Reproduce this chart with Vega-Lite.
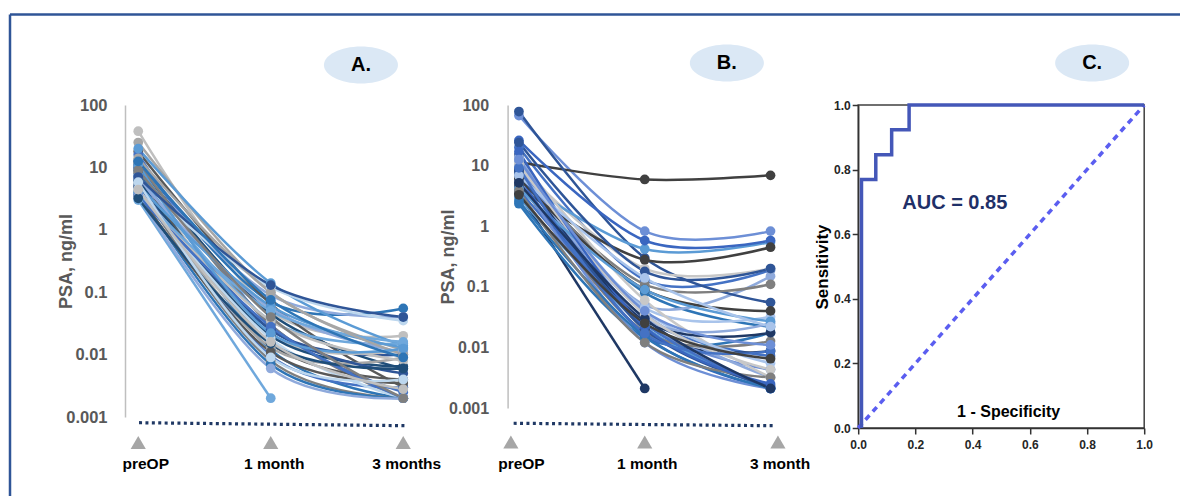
{
  "$schema": "https://vega.github.io/schema/vega-lite/v6.json",
  "background": "white",
  "padding": {"left": 8, "top": 13, "right": 0, "bottom": 0},
  "autosize": {"type": "pad"},
  "bounds": "flush",
  "spacing": 83.6,
  "config": {"view": {"stroke": null}, "font": "Liberation Sans"},
  "resolve": {"scale": {"color": "independent"}},
  "datasets": {
    "a": [
      {"p":"a00","t":0,"v":38},{"p":"a00","t":1,"v":0.05},{"p":"a00","t":2,"v":0.02},
      {"p":"a01","t":0,"v":13},{"p":"a01","t":1,"v":0.07},{"p":"a01","t":2,"v":0.055},
      {"p":"a02","t":0,"v":18},{"p":"a02","t":1,"v":0.065},{"p":"a02","t":2,"v":0.003},
      {"p":"a03","t":0,"v":3.0},{"p":"a03","t":1,"v":0.002},
      {"p":"a04","t":0,"v":16},{"p":"a04","t":1,"v":0.03},{"p":"a04","t":2,"v":0.0025},
      {"p":"a05","t":0,"v":9.5},{"p":"a05","t":1,"v":0.09},{"p":"a05","t":2,"v":0.04},
      {"p":"a06","t":0,"v":11},{"p":"a06","t":1,"v":0.045},{"p":"a06","t":2,"v":0.006},
      {"p":"a07","t":0,"v":25},{"p":"a07","t":1,"v":0.1},{"p":"a07","t":2,"v":0.012},
      {"p":"a08","t":0,"v":20},{"p":"a08","t":1,"v":0.14},{"p":"a08","t":2,"v":0.014},
      {"p":"a09","t":0,"v":12},{"p":"a09","t":1,"v":0.03},{"p":"a09","t":2,"v":0.002},
      {"p":"a10","t":0,"v":10},{"p":"a10","t":1,"v":0.025},{"p":"a10","t":2,"v":0.01},
      {"p":"a11","t":0,"v":6},{"p":"a11","t":1,"v":0.12},{"p":"a11","t":2,"v":0.035},
      {"p":"a12","t":0,"v":8.5},{"p":"a12","t":1,"v":0.02},{"p":"a12","t":2,"v":0.012},
      {"p":"a13","t":0,"v":9},{"p":"a13","t":1,"v":0.012},{"p":"a13","t":2,"v":0.002},
      {"p":"a14","t":0,"v":8},{"p":"a14","t":1,"v":0.015},{"p":"a14","t":2,"v":0.004},
      {"p":"a15","t":0,"v":7.5},{"p":"a15","t":1,"v":0.035},{"p":"a15","t":2,"v":0.015},
      {"p":"a16","t":0,"v":7},{"p":"a16","t":1,"v":0.0095},{"p":"a16","t":2,"v":0.003},
      {"p":"a17","t":0,"v":6.5},{"p":"a17","t":1,"v":0.055},{"p":"a17","t":2,"v":0.011},
      {"p":"a18","t":0,"v":6.2},{"p":"a18","t":1,"v":0.02},{"p":"a18","t":2,"v":0.0065},
      {"p":"a19","t":0,"v":5.5},{"p":"a19","t":1,"v":0.013},{"p":"a19","t":2,"v":0.009},
      {"p":"a20","t":0,"v":5.2},{"p":"a20","t":1,"v":0.06},{"p":"a20","t":2,"v":0.013},
      {"p":"a21","t":0,"v":5},{"p":"a21","t":1,"v":0.008},{"p":"a21","t":2,"v":0.002},
      {"p":"a22","t":0,"v":4.8},{"p":"a22","t":1,"v":0.025},{"p":"a22","t":2,"v":0.005},
      {"p":"a23","t":0,"v":4.5},{"p":"a23","t":1,"v":0.018},{"p":"a23","t":2,"v":0.002},
      {"p":"a24","t":0,"v":4.2},{"p":"a24","t":1,"v":0.035},{"p":"a24","t":2,"v":0.008},
      {"p":"a25","t":0,"v":4},{"p":"a25","t":1,"v":0.007},{"p":"a25","t":2,"v":0.002},
      {"p":"a26","t":0,"v":3.6},{"p":"a26","t":1,"v":0.011},{"p":"a26","t":2,"v":0.0035},
      {"p":"a27","t":0,"v":3.8},{"p":"a27","t":1,"v":0.05},{"p":"a27","t":2,"v":0.016},
      {"p":"a28","t":0,"v":3.5},{"p":"a28","t":1,"v":0.028},{"p":"a28","t":2,"v":0.002},
      {"p":"a29","t":0,"v":3.4},{"p":"a29","t":1,"v":0.006},{"p":"a29","t":2,"v":0.002},
      {"p":"a30","t":0,"v":3.2},{"p":"a30","t":1,"v":0.015},{"p":"a30","t":2,"v":0.006},
      {"p":"a31","t":0,"v":14},{"p":"a31","t":1,"v":0.1},{"p":"a31","t":2,"v":0.01},
      {"p":"a32","t":0,"v":11},{"p":"a32","t":1,"v":0.022},{"p":"a32","t":2,"v":0.0125},
      {"p":"a33","t":0,"v":9},{"p":"a33","t":1,"v":0.04},{"p":"a33","t":2,"v":0.002},
      {"p":"a34","t":0,"v":7},{"p":"a34","t":1,"v":0.13},{"p":"a34","t":2,"v":0.04},
      {"p":"a35","t":0,"v":5.8},{"p":"a35","t":1,"v":0.009},{"p":"a35","t":2,"v":0.004},
      {"p":"a36","t":0,"v":4.4},{"p":"a36","t":1,"v":0.016},{"p":"a36","t":2,"v":0.0028},
      {"p":"a37","t":0,"v":12.5},{"p":"a37","t":1,"v":0.075},{"p":"a37","t":2,"v":0.009}
    ],
    "b": [
      {"p":"b00","t":0,"v":20},{"p":"b00","t":1,"v":0.13},{"p":"b00","t":2,"v":0.19},
      {"p":"b01","t":0,"v":3.5},{"p":"b01","t":1,"v":0.0021},
      {"p":"b02","t":0,"v":67},{"p":"b02","t":1,"v":0.83},{"p":"b02","t":2,"v":0.83},
      {"p":"b03","t":0,"v":11.5},{"p":"b03","t":1,"v":5.9},{"p":"b03","t":2,"v":6.9},
      {"p":"b04","t":0,"v":8},{"p":"b04","t":1,"v":0.08},{"p":"b04","t":2,"v":0.022},
      {"p":"b05","t":0,"v":12},{"p":"b05","t":1,"v":0.05},{"p":"b05","t":2,"v":0.15},
      {"p":"b06","t":0,"v":78},{"p":"b06","t":1,"v":0.3},{"p":"b06","t":2,"v":0.055},
      {"p":"b07","t":0,"v":10},{"p":"b07","t":1,"v":0.2},{"p":"b07","t":2,"v":0.2},
      {"p":"b08","t":0,"v":6},{"p":"b08","t":1,"v":0.42},{"p":"b08","t":2,"v":0.55},
      {"p":"b09","t":0,"v":7},{"p":"b09","t":1,"v":0.11},{"p":"b09","t":2,"v":0.11},
      {"p":"b10","t":0,"v":26},{"p":"b10","t":1,"v":0.58},{"p":"b10","t":2,"v":0.58},
      {"p":"b11","t":0,"v":9},{"p":"b11","t":1,"v":0.045},{"p":"b11","t":2,"v":0.032},
      {"p":"b12","t":0,"v":5},{"p":"b12","t":1,"v":0.03},{"p":"b12","t":2,"v":0.0072},
      {"p":"b13","t":0,"v":15},{"p":"b13","t":1,"v":0.02},{"p":"b13","t":2,"v":0.0087},
      {"p":"b14","t":0,"v":9.5},{"p":"b14","t":1,"v":0.025},{"p":"b14","t":2,"v":0.0043},
      {"p":"b15","t":0,"v":4.5},{"p":"b15","t":1,"v":0.28},{"p":"b15","t":2,"v":0.45},
      {"p":"b16","t":0,"v":2.35},{"p":"b16","t":1,"v":0.0145},{"p":"b16","t":2,"v":0.0175},
      {"p":"b17","t":0,"v":7.4},{"p":"b17","t":1,"v":0.036},{"p":"b17","t":2,"v":0.0032},
      {"p":"b18","t":0,"v":24},{"p":"b18","t":1,"v":0.18},{"p":"b18","t":2,"v":0.2},
      {"p":"b19","t":0,"v":13},{"p":"b19","t":1,"v":0.06},{"p":"b19","t":2,"v":0.0032},
      {"p":"b20","t":0,"v":3},{"p":"b20","t":1,"v":0.022},{"p":"b20","t":2,"v":0.0021},
      {"p":"b21","t":0,"v":5.5},{"p":"b21","t":1,"v":0.018},{"p":"b21","t":2,"v":0.0127},
      {"p":"b22","t":0,"v":6.5},{"p":"b22","t":1,"v":0.016},{"p":"b22","t":2,"v":0.0021},
      {"p":"b23","t":0,"v":11},{"p":"b23","t":1,"v":0.04},{"p":"b23","t":2,"v":0.0055},
      {"p":"b24","t":0,"v":4},{"p":"b24","t":1,"v":0.025},{"p":"b24","t":2,"v":0.0021},
      {"p":"b25","t":0,"v":8.5},{"p":"b25","t":1,"v":0.028},{"p":"b25","t":2,"v":0.0175},
      {"p":"b26","t":0,"v":5.8},{"p":"b26","t":1,"v":0.012},{"p":"b26","t":2,"v":0.0021},
      {"p":"b27","t":0,"v":6.2},{"p":"b27","t":1,"v":0.09},{"p":"b27","t":2,"v":0.04},
      {"p":"b28","t":0,"v":2.6},{"p":"b28","t":1,"v":0.015},{"p":"b28","t":2,"v":0.0021},
      {"p":"b29","t":0,"v":14},{"p":"b29","t":1,"v":0.03},{"p":"b29","t":2,"v":0.025},
      {"p":"b30","t":0,"v":7.8},{"p":"b30","t":1,"v":0.02},{"p":"b30","t":2,"v":0.0023},
      {"p":"b31","t":0,"v":10.5},{"p":"b31","t":1,"v":0.035},{"p":"b31","t":2,"v":0.0043},
      {"p":"b32","t":0,"v":4.2},{"p":"b32","t":1,"v":0.09},{"p":"b32","t":2,"v":0.027},
      {"p":"b33","t":0,"v":3.8},{"p":"b33","t":1,"v":0.012},{"p":"b33","t":2,"v":0.0032},
      {"p":"b34","t":0,"v":17},{"p":"b34","t":1,"v":0.022},{"p":"b34","t":2,"v":0.0025},
      {"p":"b35","t":0,"v":6.8},{"p":"b35","t":1,"v":0.14},{"p":"b35","t":2,"v":0.022},
      {"p":"b36","t":0,"v":9.2},{"p":"b36","t":1,"v":0.017},{"p":"b36","t":2,"v":0.0087},
      {"p":"b37","t":0,"v":5.2},{"p":"b37","t":1,"v":0.03},{"p":"b37","t":2,"v":0.0021},
      {"p":"b38","t":0,"v":12.5},{"p":"b38","t":1,"v":0.04},{"p":"b38","t":2,"v":0.011},
      {"p":"b39","t":0,"v":3.3},{"p":"b39","t":1,"v":0.025},{"p":"b39","t":2,"v":0.0065}
    ],
    "roc": [
      {"o":0,"x":0.0115,"y":0},{"o":1,"x":0.0115,"y":0.769},{"o":2,"x":0.0615,"y":0.769},
      {"o":3,"x":0.0615,"y":0.846},{"o":4,"x":0.117,"y":0.846},{"o":5,"x":0.117,"y":0.923},
      {"o":6,"x":0.178,"y":0.923},{"o":7,"x":0.178,"y":1},{"o":8,"x":1,"y":1}
    ]
  },
  "hconcat": [
    {
      "width": 298.1,
      "height": 312,
      "encoding": {
        "x": {"field": "t", "type": "quantitative", "scale": {"domain": [-0.1, 2.15]},
          "axis": {"values": [0, 1, 2], "labelExpr": "['preOP','1 month','3 months'][datum.value]",
            "domain": false, "ticks": false, "grid": false, "labelFlush": false, "labelOverlap": false,
            "labelFontSize": 15.5, "labelFontWeight": "bold", "labelColor": "#000000", "labelPadding": 39,
            "labelOffset": {"condition": {"test": "datum.value == 0", "value": 7}, "value": 3}, "title": null}},
        "y": {"field": "v", "type": "quantitative", "scale": {"type": "log", "domain": [0.001, 100]},
          "axis": {"values": [0.001, 0.01, 0.1, 1, 10, 100], "format": "~r", "domain": true, "domainColor": "#bfbfbf",
            "domainWidth": 1.5, "ticks": false, "grid": false, "labelFlush": false, "labelOverlap": false,
            "labelFontSize": 16.5, "labelFontWeight": "bold", "labelColor": "#595959", "labelPadding": 18,
            "title": "PSA, ng/ml", "titleFontSize": 18, "titleFontWeight": "bold", "titleColor": "#595959",
            "titleX": -59, "titleY": 156, "titleAngle": -90, "titleAlign": "center", "titleBaseline": "middle"}}
      },
      "layer": [
        {"data": {"values": [{"t": -0.968, "t2": 7.91, "v": 2820, "v2": 2820}, {"t": -0.968, "t2": -0.968, "v": 2820, "v2": 0.0000324}]},
          "mark": {"type": "rule", "color": "#2f5597", "strokeWidth": 2.5, "clip": false},
          "encoding": {"x2": {"field": "t2"}, "y2": {"field": "v2"}}},
        {"data": {"name": "a"}, "mark": {"type": "line", "interpolate": "cardinal", "strokeWidth": 2.5, "clip": false},
          "encoding": {"color": {"field": "p", "type": "nominal", "legend": null,
            "scale": {"range": ["#bfbfbf","#2e75b6","#595959","#6fa8dc","#4472c4","#8faadc","#1f4e79","#a6a6a6","#5b9bd5","#7f7f7f","#2f5597","#bdd7ee"]}}}},
        {"data": {"name": "a"}, "mark": {"type": "point", "filled": true, "size": 95, "opacity": 1, "clip": false},
          "encoding": {"color": {"field": "p", "type": "nominal", "legend": null,
            "scale": {"range": ["#bfbfbf","#2e75b6","#595959","#6fa8dc","#4472c4","#8faadc","#1f4e79","#a6a6a6","#5b9bd5","#7f7f7f","#2f5597","#bdd7ee"]}}}},
        {"data": {"values": [{"t": 0.006, "v": 0.00081}, {"t": 2.028, "v": 0.000725}]},
          "mark": {"type": "line", "color": "#1f3864", "strokeWidth": 3.2, "strokeDash": [3, 3.4], "clip": false},
          "encoding": {}},
        {"data": {"values": [{"t": 0, "v": 0.00039}, {"t": 1, "v": 0.00039}, {"t": 2, "v": 0.00039}]},
          "mark": {"type": "point", "shape": "triangle-up", "filled": true, "size": 230, "color": "#a6a6a6", "opacity": 1, "clip": false},
          "encoding": {}},
        {"data": {"values": [{"t": 1.681, "v": 437, "lab": "A."}]},
          "mark": {"type": "point", "shape": "M-1,0A1,0.5,0,1,1,1,0A1,0.5,0,1,1,-1,0Z", "filled": true, "size": 5476, "color": "#dbe8f5", "opacity": 1, "clip": false},
          "encoding": {}},
        {"data": {"values": [{"t": 1.681, "v": 437, "lab": "A."}]},
          "mark": {"type": "text", "fontSize": 20, "fontWeight": "bold", "color": "#000000", "baseline": "middle", "align": "center", "clip": false},
          "encoding": {"text": {"field": "lab"}}}
      ]
    },
    {
      "width": 266.7,
      "height": 303,
      "encoding": {
        "x": {"field": "t", "type": "quantitative", "scale": {"domain": [-0.09, 2.03]},
          "axis": {"values": [0, 1, 2], "labelExpr": "['preOP','1 month','3 month'][datum.value]",
            "domain": false, "ticks": false, "grid": false, "labelFlush": false, "labelOverlap": false,
            "labelFontSize": 15.5, "labelFontWeight": "bold", "labelColor": "#000000", "labelPadding": 48,
            "labelOffset": {"condition": {"test": "datum.value == 2", "value": 9}, "value": 2}, "title": null}},
        "y": {"field": "v", "type": "quantitative", "scale": {"type": "log", "domain": [0.001, 100]},
          "axis": {"values": [0.001, 0.01, 0.1, 1, 10, 100], "format": "~r", "domain": true, "domainColor": "#bfbfbf",
            "domainWidth": 1.5, "ticks": false, "grid": false, "labelFlush": false, "labelOverlap": false,
            "labelFontSize": 16, "labelFontWeight": "bold", "labelColor": "#595959", "labelPadding": 19,
            "title": "PSA, ng/ml", "titleFontSize": 18, "titleFontWeight": "bold", "titleColor": "#595959",
            "titleX": -59, "titleY": 151.5, "titleAngle": -90, "titleAlign": "center", "titleBaseline": "middle"}}
      },
      "layer": [
        {"data": {"name": "b"}, "mark": {"type": "line", "interpolate": "cardinal", "strokeWidth": 2.5, "clip": false},
          "encoding": {"color": {"field": "p", "type": "nominal", "legend": null,
            "scale": {"range": ["#4472c4","#1f3864","#6d8fd6","#404040","#2e75b6","#8faadc","#2f5597","#c8c8c8","#5b9bd5","#7f7f7f","#3a66c0","#a9c4eb"]}}}},
        {"data": {"name": "b"}, "mark": {"type": "point", "filled": true, "size": 95, "opacity": 1, "clip": false},
          "encoding": {"color": {"field": "p", "type": "nominal", "legend": null,
            "scale": {"range": ["#4472c4","#1f3864","#6d8fd6","#404040","#2e75b6","#8faadc","#2f5597","#c8c8c8","#5b9bd5","#7f7f7f","#3a66c0","#a9c4eb"]}}}},
        {"data": {"values": [{"t": -0.042, "v": 0.00056}, {"t": 2.017, "v": 0.00051}]},
          "mark": {"type": "line", "color": "#1f3864", "strokeWidth": 3.2, "strokeDash": [3, 3.4], "clip": false},
          "encoding": {}},
        {"data": {"values": [{"t": -0.064, "v": 0.000275}, {"t": 1, "v": 0.000275}, {"t": 2.059, "v": 0.000275}]},
          "mark": {"type": "point", "shape": "triangle-up", "filled": true, "size": 230, "color": "#a6a6a6", "opacity": 1, "clip": false},
          "encoding": {}},
        {"data": {"values": [{"t": 1.653, "v": 493, "lab": "B."}]},
          "mark": {"type": "point", "shape": "M-1,0A1,0.5,0,1,1,1,0A1,0.5,0,1,1,-1,0Z", "filled": true, "size": 5476, "color": "#dbe8f5", "opacity": 1, "clip": false},
          "encoding": {}},
        {"data": {"values": [{"t": 1.653, "v": 493, "lab": "B."}]},
          "mark": {"type": "text", "fontSize": 20, "fontWeight": "bold", "color": "#000000", "baseline": "middle", "align": "center", "clip": false},
          "encoding": {"text": {"field": "lab"}}}
      ]
    },
    {
      "width": 286,
      "height": 323,
      "view": {"stroke": "#404040", "strokeWidth": 1.5},
      "encoding": {
        "x": {"field": "x", "type": "quantitative", "scale": {"domain": [0, 1]},
          "axis": {"values": [0, 0.2, 0.4, 0.6, 0.8, 1], "format": ".1f", "domainColor": "#333333", "domainWidth": 1.5,
            "tickColor": "#333333", "tickSize": 6, "tickWidth": 1.5, "grid": false, "labelFlush": false, "labelOverlap": false,
            "labelFontSize": 12, "labelFontWeight": "bold", "labelColor": "#262626", "labelPadding": 5,
            "title": "1 - Specificity", "titleFontSize": 16, "titleFontWeight": "bold", "titleColor": "#000000",
            "titleX": 150, "titleY": -17, "titleAlign": "center", "titleBaseline": "middle"}},
        "y": {"field": "y", "type": "quantitative", "scale": {"domain": [0, 1]},
          "axis": {"values": [0, 0.2, 0.4, 0.6, 0.8, 1], "format": ".1f", "domainColor": "#333333", "domainWidth": 1.5,
            "tickColor": "#333333", "tickSize": 6, "tickWidth": 1.5, "grid": false, "labelFlush": false, "labelOverlap": false,
            "labelFontSize": 12, "labelFontWeight": "bold", "labelColor": "#262626", "labelPadding": 2,
            "title": "Sensitivity", "titleFontSize": 17, "titleFontWeight": "bold", "titleColor": "#000000",
            "titleX": -36, "titleY": 161.5, "titleAngle": -90, "titleAlign": "center", "titleBaseline": "middle"}}
      },
      "layer": [
        {"data": {"values": [{"x": 0, "y": 0}, {"x": 1, "y": 1}]},
          "mark": {"type": "line", "color": "#5b5ef0", "strokeWidth": 3.5, "strokeDash": [6, 5]},
          "encoding": {}},
        {"data": {"name": "roc"},
          "mark": {"type": "line", "color": "#4457b8", "strokeWidth": 3.5},
          "encoding": {"order": {"field": "o", "type": "quantitative"}}},
        {"data": {"values": [{"x": 0.154, "y": 0.698, "lab": "AUC = 0.85"}]},
          "mark": {"type": "text", "fontSize": 20, "fontWeight": "bold", "color": "#1f3068", "baseline": "middle", "align": "left"},
          "encoding": {"text": {"field": "lab"}}},
        {"data": {"values": [{"x": 0.818, "y": 1.13, "lab": "C."}]},
          "mark": {"type": "point", "shape": "M-1,0A1,0.5,0,1,1,1,0A1,0.5,0,1,1,-1,0Z", "filled": true, "size": 5476, "color": "#dbe8f5", "opacity": 1, "clip": false},
          "encoding": {}},
        {"data": {"values": [{"x": 0.818, "y": 1.13, "lab": "C."}]},
          "mark": {"type": "text", "fontSize": 20, "fontWeight": "bold", "color": "#000000", "baseline": "middle", "align": "center", "clip": false},
          "encoding": {"text": {"field": "lab"}}}
      ]
    }
  ]
}
